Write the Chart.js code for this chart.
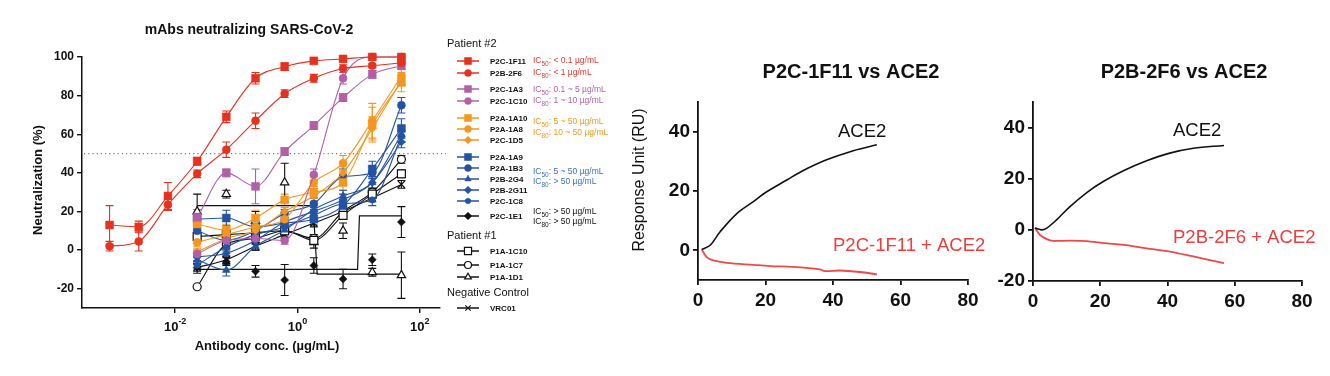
<!DOCTYPE html>
<html><head><meta charset="utf-8">
<script src="https://cdn.jsdelivr.net/npm/chart.js@4.4.1/dist/chart.umd.min.js"></script>
<style>
html,body{margin:0;padding:0;background:#fff}
body{position:relative;width:1330px;height:376px;overflow:hidden}
canvas{position:absolute;top:0}
</style></head><body>
<canvas id="c1" width="640" height="376" style="left:0"></canvas>
<canvas id="c2" width="380" height="376" style="left:620px"></canvas>
<canvas id="c3" width="340" height="376" style="left:990px"></canvas>
<script>
// ================= DATA =================
// Neutralization panel (x: antibody conc, ug/mL; y: neutralization %)
const concentrations = [0.000847, 0.00254, 0.00762, 0.0229, 0.0686, 0.206, 0.617, 1.85, 5.56, 16.7, 50];
const conc8 = [0.0229, 0.0686, 0.206, 0.617, 1.85, 5.56, 16.7, 50];
const xTickValues = [0.01, 1, 100];
const xTickExponents = ['-2', '0', '2'];
const yTickValues = [-20, 0, 20, 40, 60, 80, 100];

const P2C_1F11 = [13, 12, 28, 46, 69, 89, 95, 98, 99, 100, 100];
const P2C_1F11_err = [10, 3, 7, 2, 3, 3, 2, 1, 1, 1, 1];
const P2B_2F6 = [2, 4.5, 23.5, 39.5, 52, 67, 81, 89, 94, 95.5, 97];
const P2B_2F6_err = [2.5, 5, 3, 2, 4, 4, 2, 2, 2, 1, 1];
const P2C_1A3 = [17, 40, 33, 51, 64.5, 79, 91, 95.5];
const P2C_1A3_err = [4, 2, 9, 2, 2, 2, 2, 2];
const P2C_1C10 = [-2, 5, 6, 5, 39, 89, 100, 100];
const P2C_1C10_err = [2, 2, 3, 2, 3, 3, 1, 1];
const P2A_1A10 = [13.5, 10.4, 16.6, 26, 30, 35, 65, 87];
const P2A_1A10_err = [3, 3, 4, 3, 3, 4, 9, 5];
const P2A_1A8 = [4, 8, 12, 16, 35, 45, 67, 90];
const P2A_1A8_err = [2, 2, 3, 3, 3, 4, 9, 4];
const P2C_1D5 = [-1, 6, 10, 20, 28, 40, 63, 88];
const P2C_1D5_err = [2, 2, 2, 2, 3, 3, 6, 3];
const P2A_1A9 = [16, 16.6, 12, 14, 16, 23, 42, 63];
const P2A_1A9_err = [3, 4, 3, 3, 3, 3, 4, 5];
const P2A_1B3 = [10, 5, 10, 19, 24, 38, 40, 75];
const P2A_1B3_err = [2, 2, 3, 2, 3, 4, 3, 4];
const P2B_2G4 = [-5, -10.4, 2, 10.4, 21, 28, 35, 60];
const P2B_2G4_err = [2, 3, 2, 2, 2, 3, 3, 4];
const P2B_2G11 = [-3.6, -1.6, 5, 14.5, 20, 26, 35, 56];
const P2B_2G11_err = [2, 2, 2, 2, 2, 3, 3, 3];
const P2C_1C8 = [-7.8, 1.6, 8, 12, 18, 24, 26, 59];
const P2C_1C8_err = [2, 2, 2, 2, 2, 2, 3, 3];
const P2C_1E1 = [-9, -6, -11, -15.5, -8, -15, -5, 14.5];
const P2C_1E1_err = [3, 2, 3, 8, 4, 5, 3, 8];
const P1A_1C10 = [7, 8, 9, 10, 5, 18, 29, 39.5];
const P1A_1C10_err = [2, 2, 2, 2, 2, 2, 2, 2];
const P1A_1C7 = [-19, 3, 6, 10, 6, 20, 30, 47];
const P1A_1C7_err = [0, 2, 2, 2, 2, 2, 2, 2];
const P1A_1D1 = [20, 29, 15, 35, 4, 10, -11.5, -13];
const P1A_1D1_err = [9, 2, 5, 10, 3, 4, 2, 12];
const VRC01 = [-9, -5, 2, 8, 14, 20, 27, 34];
const VRC01_err = [2, 2, 2, 2, 2, 2, 2, 2];
// step-shaped fitted curves
const P2C_1E1_fitX = [0.0229, 9.6, 10.3, 50];
const P2C_1E1_fitY = [-10, -10, 17.7, 17.7];
const P1A_1D1_fitX = [0.0229, 1.8, 2.1, 50];
const P1A_1D1_fitY = [23, 23, -12.5, -12.5];

// SPR panels (x: time, s; y: response unit)
const spr1_ace2_t = [1.1, 3.6, 6.5, 11.5, 16.4, 19.9, 26.3, 31.2, 38.1, 46, 53];
const spr1_ace2_v = [0.3, 1.7, 6.2, 12.4, 16.4, 19.4, 23.7, 26.9, 30.5, 33.6, 35.6];
const spr1_mix_t = [1.1, 2.6, 4.5, 8.5, 16.4, 21.3, 28.2, 36.1, 37.6, 42.1, 48, 53];
const spr1_mix_v = [0.3, -2.3, -3.4, -4.2, -4.9, -5.3, -5.6, -6.4, -7, -6.8, -7.3, -8.1];
const spr2_ace2_t = [0.6, 2.6, 4.1, 7, 11, 16, 20.9, 26.9, 33.8, 40.7, 47.7, 56.8];
const spr2_ace2_v = [0.7, 0, 0.7, 3.9, 9.1, 14.6, 18.9, 23.1, 27, 30, 31.9, 33];
const spr2_mix_t = [0.6, 2.1, 4.1, 6, 11, 16, 20.9, 26.9, 33.8, 40.7, 47.7, 56.8];
const spr2_mix_v = [0.7, -2, -3.6, -4.3, -4.2, -4.4, -5.2, -5.9, -7.2, -8.5, -10.4, -13];
const sprXTicks = [0, 20, 40, 60, 80];
const spr1YTicks = [0, 20, 40];
const spr2YTicks = [-20, 0, 20, 40];

// ================= STYLE =================
const COL = {red: '#e5321f', pink: '#b35fa5', orange: '#f5961e', blue: '#2453a3', black: '#111111'};
const ICCOL = {red: '#e8392a', pink: '#b35fa5', orange: '#f39a22', blue: '#3b6fc2', black: '#111111'};
const FONT = 'Arial, "Liberation Sans", Helvetica, sans-serif';

const series = [
  {name: 'P2C-1F11', x: concentrations, v: P2C_1F11, e: P2C_1F11_err, c: COL.red, s: 'rect', r: 5.6, ly: 61},
  {name: 'P2B-2F6', x: concentrations, v: P2B_2F6, e: P2B_2F6_err, c: COL.red, s: 'circle', r: 4, ly: 73},
  {name: 'P2C-1A3', x: conc8, v: P2C_1A3, e: P2C_1A3_err, c: COL.pink, s: 'rect', r: 5.6, ly: 89},
  {name: 'P2C-1C10', x: conc8, v: P2C_1C10, e: P2C_1C10_err, c: COL.pink, s: 'circle', r: 4, ly: 101},
  {name: 'P2A-1A10', x: conc8, v: P2A_1A10, e: P2A_1A10_err, c: COL.orange, s: 'rect', r: 5.6, ly: 118},
  {name: 'P2A-1A8', x: conc8, v: P2A_1A8, e: P2A_1A8_err, c: COL.orange, s: 'circle', r: 4, ly: 129},
  {name: 'P2C-1D5', x: conc8, v: P2C_1D5, e: P2C_1D5_err, c: COL.orange, s: 'rectRot', r: 4, ly: 140},
  {name: 'P2A-1A9', x: conc8, v: P2A_1A9, e: P2A_1A9_err, c: COL.blue, s: 'rect', r: 5.6, ly: 157},
  {name: 'P2A-1B3', x: conc8, v: P2A_1B3, e: P2A_1B3_err, c: COL.blue, s: 'circle', r: 4, ly: 168},
  {name: 'P2B-2G4', x: conc8, v: P2B_2G4, e: P2B_2G4_err, c: COL.blue, s: 'triangle', r: 4.5, ly: 179},
  {name: 'P2B-2G11', x: conc8, v: P2B_2G11, e: P2B_2G11_err, c: COL.blue, s: 'rectRot', r: 4, ly: 190},
  {name: 'P2C-1C8', x: conc8, v: P2C_1C8, e: P2C_1C8_err, c: COL.blue, s: 'circle', r: 3.2, ly: 201},
  {name: 'P2C-1E1', x: conc8, v: P2C_1E1, e: P2C_1E1_err, c: COL.black, s: 'rectRot', r: 4, ly: 216, noLine: true},
  {name: 'P1A-1C10', x: conc8, v: P1A_1C10, e: P1A_1C10_err, c: COL.black, s: 'rect', r: 5.6, open: true, ly: 251},
  {name: 'P1A-1C7', x: conc8, v: P1A_1C7, e: P1A_1C7_err, c: COL.black, s: 'circle', r: 4, open: true, ly: 265},
  {name: 'P1A-1D1', x: conc8, v: P1A_1D1, e: P1A_1D1_err, c: COL.black, s: 'triangle', r: 4.8, open: true, ly: 277, noLine: true},
  {name: 'VRC01', x: conc8, v: VRC01, e: VRC01_err, c: COL.black, s: 'crossRot', r: 5, ly: 308}
];
const legendHeaders = [
  {text: 'Patient #2', y: 44}, {text: 'Patient #1', y: 236}, {text: 'Negative Control', y: 293}
];
const icNotes = [
  {n: '50', t: ': < 0.1 \u00b5g/mL', c: ICCOL.red, y: 61},
  {n: '80', t: ': < 1 \u00b5g/mL', c: ICCOL.red, y: 73},
  {n: '50', t: ': 0.1 ~ 5 \u00b5g/mL', c: ICCOL.pink, y: 90},
  {n: '80', t: ': 1 ~ 10 \u00b5g/mL', c: ICCOL.pink, y: 101},
  {n: '50', t: ': 5 ~ 50 \u00b5g/mL', c: ICCOL.orange, y: 122},
  {n: '80', t: ': 10 ~ 50 \u00b5g/mL', c: ICCOL.orange, y: 133},
  {n: '50', t: ': 5 ~ 50 \u00b5g/mL', c: ICCOL.blue, y: 172},
  {n: '80', t: ': > 50 \u00b5g/mL', c: ICCOL.blue, y: 182},
  {n: '50', t: ': > 50 \u00b5g/mL', c: ICCOL.black, y: 212},
  {n: '80', t: ': > 50 \u00b5g/mL', c: ICCOL.black, y: 222}
];

function pts(xs, ys) { return xs.map((x, i) => ({x: x, y: ys[i]})); }

const datasets1 = series.map(s => ({
  label: s.name,
  data: pts(s.x, s.v),
  errs: s.e,
  borderColor: s.c,
  backgroundColor: s.open ? '#ffffff' : s.c,
  pointBackgroundColor: s.open ? '#ffffff' : s.c,
  pointBorderColor: s.c,
  pointBorderWidth: s.open ? 1.2 : (s.s === 'crossRot' ? 1.3 : 0.5),
  pointStyle: s.s,
  pointRadius: s.r,
  pointHoverRadius: s.r,
  borderWidth: 1.1,
  showLine: !s.noLine,
  cubicInterpolationMode: 'monotone',
  clip: false
}));
datasets1.push({label: 'P2C-1E1 fit', data: pts(P2C_1E1_fitX, P2C_1E1_fitY), borderColor: COL.black,
  borderWidth: 1.2, pointRadius: 0, showLine: true, tension: 0, clip: false});
datasets1.push({label: 'P1A-1D1 fit', data: pts(P1A_1D1_fitX, P1A_1D1_fitY), borderColor: COL.black,
  borderWidth: 1.2, pointRadius: 0, showLine: true, tension: 0, clip: false});

function drawMarker(ctx, style, x, y, r, color, open) {
  ctx.save();
  ctx.fillStyle = open ? '#fff' : color;
  ctx.strokeStyle = color;
  ctx.lineWidth = open || style === 'crossRot' ? 1.2 : 0.5;
  Chart.helpers.drawPoint(ctx, {pointStyle: style, radius: r, rotation: 0, borderWidth: ctx.lineWidth}, x, y);
  ctx.restore();
}

const errorBarPlugin = {
  id: 'errorBars',
  beforeDatasetsDraw(chart) {
    const ctx = chart.ctx, ys = chart.scales.y;
    chart.data.datasets.forEach((ds, i) => {
      if (!ds.errs) return;
      const meta = chart.getDatasetMeta(i);
      ctx.save();
      ctx.strokeStyle = ds.borderColor;
      ctx.lineWidth = 1.1;
      meta.data.forEach((el, j) => {
        const e = ds.errs[j];
        if (!e) return;
        const v = ds.data[j].y;
        const y1 = ys.getPixelForValue(v + e), y2 = ys.getPixelForValue(v - e);
        ctx.beginPath();
        ctx.moveTo(el.x, y1); ctx.lineTo(el.x, y2);
        ctx.moveTo(el.x - 4, y1); ctx.lineTo(el.x + 4, y1);
        ctx.moveTo(el.x - 4, y2); ctx.lineTo(el.x + 4, y2);
        ctx.stroke();
      });
      ctx.restore();
    });
    // dotted 50% reference line
    const ca = chart.chartArea, y50 = ys.getPixelForValue(50);
    ctx.save();
    ctx.strokeStyle = '#777'; ctx.lineWidth = 1.2; ctx.setLineDash([1.2, 3]);
    ctx.beginPath(); ctx.moveTo(ca.left + 2, y50); ctx.lineTo(ca.right + 6, y50); ctx.stroke();
    ctx.restore();
  }
};

const textPlugin1 = {
  id: 'texts1',
  afterDraw(chart) {
    const ctx = chart.ctx, ca = chart.chartArea, xs = chart.scales.x;
    ctx.save();
    ctx.fillStyle = '#111';
    ctx.textBaseline = 'middle';
    // title
    ctx.font = 'bold 14px ' + FONT; ctx.textAlign = 'center';
    ctx.fillText('mAbs neutralizing SARS-CoV-2', 249, 30);
    // x title
    ctx.font = 'bold 13px ' + FONT;
    ctx.fillText('Antibody conc. (\u00b5g/mL)', 267, 346);
    // y title
    ctx.save(); ctx.translate(38, 180); ctx.rotate(-Math.PI / 2);
    ctx.fillText('Neutralization (%)', 0, 0); ctx.restore();
    // x tick labels with superscripts
    ctx.textAlign = 'left'; ctx.textBaseline = 'alphabetic';
    xTickValues.forEach((v, i) => {
      const px = xs.getPixelForValue(v);
      ctx.font = 'bold 13px ' + FONT;
      const w1 = ctx.measureText('10').width;
      ctx.font = 'bold 9px ' + FONT;
      const w2 = ctx.measureText(xTickExponents[i]).width;
      const x0 = px - (w1 + w2) / 2;
      ctx.font = 'bold 13px ' + FONT;
      ctx.fillText('10', x0, 331);
      ctx.font = 'bold 9px ' + FONT;
      ctx.fillText(xTickExponents[i], x0 + w1, 324);
    });
    // legend
    ctx.textBaseline = 'middle';
    ctx.font = '11px ' + FONT; ctx.fillStyle = '#111';
    legendHeaders.forEach(h => ctx.fillText(h.text, 447, h.y));
    series.forEach(s => {
      ctx.save();
      ctx.strokeStyle = s.c; ctx.globalAlpha = 0.75; ctx.lineWidth = 2;
      ctx.beginPath(); ctx.moveTo(457, s.ly); ctx.lineTo(479, s.ly); ctx.stroke();
      ctx.restore();
      const lr = s.s === 'rect' ? 5 : (s.s === 'circle' ? (s.r < 3.5 ? 2.8 : 3.5) : 3.8);
      drawMarker(ctx, s.s, 468, s.ly, lr, s.c, s.open);
      ctx.fillStyle = '#111'; ctx.font = 'bold 8px ' + FONT;
      ctx.fillText(s.name, 490, s.ly + 0.5);
    });
    icNotes.forEach(n => {
      ctx.fillStyle = n.c;
      ctx.font = '8.5px ' + FONT;
      ctx.fillText('IC', 533, n.y);
      let x = 533 + ctx.measureText('IC').width;
      ctx.font = '6.5px ' + FONT;
      ctx.fillText(n.n, x, n.y + 3);
      x += ctx.measureText(n.n).width;
      ctx.font = '8.5px ' + FONT;
      ctx.fillText(n.t, x, n.y);
    });
    ctx.restore();
  }
};

new Chart(document.getElementById('c1'), {
  type: 'scatter',
  data: {datasets: datasets1},
  plugins: [errorBarPlugin, textPlugin1],
  options: {
    responsive: false, animation: false, events: [],
    layout: {padding: {left: 0, right: 200, top: 57, bottom: 0}},
    plugins: {legend: {display: false}, tooltip: {enabled: false}, title: {display: false}},
    scales: {
      x: {
        type: 'logarithmic', min: Math.pow(10, -3.5), max: Math.pow(10, 2.33),
        afterBuildTicks: s => { s.ticks = xTickValues.map(v => ({value: v, major: true})); },
        afterFit: s => { s.height = 68; },
        ticks: {display: false},
        grid: {display: true, drawOnChartArea: false, drawTicks: true, tickLength: 5, color: '#111', lineWidth: 1.4},
        border: {display: true, color: '#111', width: 1.5}
      },
      y: {
        min: -30, max: 100,
        afterBuildTicks: s => { s.ticks = yTickValues.map(v => ({value: v})); },
        afterFit: s => { s.width = 82; },
        ticks: {color: '#111', font: {family: FONT, size: 12, weight: 'bold'}, padding: 3},
        grid: {display: true, drawOnChartArea: false, drawTicks: true, tickLength: 5, color: '#111', lineWidth: 1.4},
        border: {display: true, color: '#111', width: 1.5}
      }
    }
  }
});

// ================= SPR panels =================
function sprChart(id, cfg) {
  const txt = {
    id: 'sprTexts',
    afterDraw(chart) {
      const ctx = chart.ctx;
      ctx.save();
      ctx.textBaseline = 'middle';
      ctx.fillStyle = '#111'; ctx.font = 'bold 20px ' + FONT; ctx.textAlign = 'center';
      ctx.fillText(cfg.title, cfg.titleX, 72);
      ctx.textAlign = 'left'; ctx.font = '18.5px ' + FONT;
      ctx.fillStyle = '#111'; ctx.fillText('ACE2', cfg.aceLbl[0], cfg.aceLbl[1]);
      ctx.fillStyle = '#f03c3c'; ctx.fillText(cfg.mixName, cfg.mixLbl[0], cfg.mixLbl[1]);
      if (cfg.yTitle) {
        ctx.fillStyle = '#111'; ctx.font = '16px ' + FONT; ctx.textAlign = 'center';
        ctx.translate(cfg.yTitle[0], cfg.yTitle[1]); ctx.rotate(-Math.PI / 2);
        ctx.fillText('Response Unit (RU)', 0, 0);
      }
      ctx.restore();
    }
  };
  new Chart(document.getElementById(id), {
    type: 'scatter',
    data: {datasets: [
      {label: 'ACE2', data: pts(cfg.aceT, cfg.aceV), showLine: true, borderColor: '#111', borderWidth: 1.6,
       pointRadius: 0, tension: 0.35, clip: false},
      {label: cfg.mixName, data: pts(cfg.mixT, cfg.mixV), showLine: true, borderColor: '#f04848', borderWidth: 1.8,
       pointRadius: 0, tension: 0.35, clip: false}
    ]},
    plugins: [txt],
    options: {
      responsive: false, animation: false, events: [],
      layout: {padding: {left: 0, right: cfg.padRight, top: 102, bottom: 0}},
      plugins: {legend: {display: false}, tooltip: {enabled: false}},
      scales: {
        x: {
          min: 0, max: 80,
          afterBuildTicks: s => { s.ticks = sprXTicks.map(v => ({value: v})); },
          afterFit: s => { s.height = cfg.xH; },
          ticks: {color: '#111', font: {family: FONT, size: 19, weight: 'bold'}, padding: 4, maxRotation: 0},
          grid: {display: true, drawOnChartArea: false, drawTicks: true, tickLength: 5, color: '#111', lineWidth: 1.8},
          border: {display: true, color: '#111', width: 1.8}
        },
        y: {
          min: cfg.yMin, max: 50,
          afterBuildTicks: s => { s.ticks = cfg.yTicks.map(v => ({value: v})); },
          afterFit: s => { s.width = cfg.yW; },
          ticks: {color: '#111', font: {family: FONT, size: 19, weight: 'bold'}, padding: 3},
          grid: {display: true, drawOnChartArea: false, drawTicks: true, tickLength: 5, color: '#111', lineWidth: 1.8},
          border: {display: true, color: '#111', width: 1.8}
        }
      }
    }
  });
}

sprChart('c2', {
  title: 'P2C-1F11 vs ACE2', titleX: 231, mixName: 'P2C-1F11 + ACE2',
  aceT: spr1_ace2_t, aceV: spr1_ace2_v, mixT: spr1_mix_t, mixV: spr1_mix_v,
  yMin: -10, yTicks: spr1YTicks, padRight: 32, xH: 96, yW: 78,
  aceLbl: [218, 132], mixLbl: [213, 246], yTitle: [20, 180]
});
sprChart('c3', {
  title: 'P2B-2F6 vs ACE2', titleX: 194, mixName: 'P2B-2F6 + ACE2',
  aceT: spr2_ace2_t, aceV: spr2_ace2_v, mixT: spr2_mix_t, mixV: spr2_mix_v,
  yMin: -20, yTicks: spr2YTicks, padRight: 28, xH: 95, yW: 43,
  aceLbl: [183, 131], mixLbl: [183, 238], yTitle: null
});
</script>
</body></html>
